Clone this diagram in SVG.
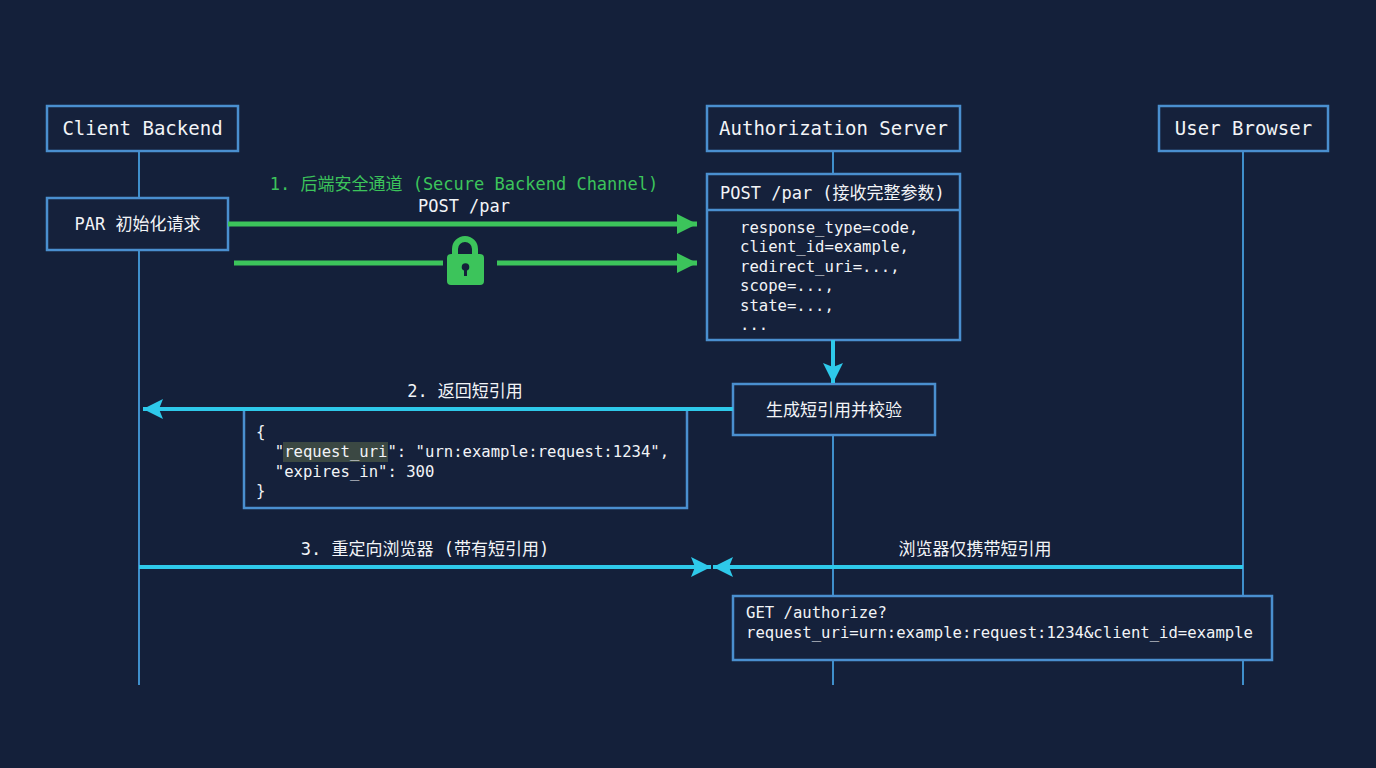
<svg xmlns="http://www.w3.org/2000/svg" width="1376" height="768" viewBox="0 0 1376 768">
<defs>
<style>
.box{fill:#15213b;stroke:#4a8fcf;stroke-width:2.5}
.life{stroke:#3f8fcb;stroke-width:2;fill:none}
.t{font-family:"DejaVu Sans Mono","Noto Sans CJK SC",monospace;fill:#f2f4f7}
.h{font-size:19px}
.m{font-size:17px}
.c{font-size:15.6px}
.g{stroke:#3cc45b;stroke-width:5;fill:none}
.cy{stroke:#2ec9ea;stroke-width:4;fill:none}
</style>
<marker id="ag" viewBox="0 0 10 10" refX="10" refY="5" markerWidth="4" markerHeight="4" markerUnits="strokeWidth" orient="auto"><path d="M0,0L10,5L0,10z" fill="#3cc45b"/></marker>
<marker id="ac" viewBox="0 0 10 10" refX="10" refY="5" markerWidth="5" markerHeight="5" markerUnits="strokeWidth" orient="auto"><path d="M0,0L10,5L0,10L2,5z" fill="#2ec9ea"/></marker>
</defs>
<rect width="1376" height="768" fill="#14203a"/>
<g id="lifelines">
<line class="life" x1="139" y1="151" x2="139" y2="685"/>
<line class="life" x1="833" y1="151" x2="833" y2="685"/>
<line class="life" x1="1243" y1="151" x2="1243" y2="685"/>
</g>
<g id="client-backend"><rect class="box" x="47" y="106" width="191" height="45"/><text class="t h" x="142.5" y="135" text-anchor="middle">Client Backend</text></g>
<g id="auth-server"><rect class="box" x="707" y="106" width="253" height="45"/><text class="t h" x="833.5" y="135" text-anchor="middle">Authorization Server</text></g>
<g id="user-browser"><rect class="box" x="1159" y="106" width="169" height="45"/><text class="t h" x="1243.5" y="135" text-anchor="middle">User Browser</text></g>
<g id="par-init"><rect class="box" x="47" y="198" width="181" height="52"/><text class="t m" x="137.5" y="230" text-anchor="middle" font-size="18">PAR 初始化请求</text></g>
<g id="post-par">
<rect class="box" x="707" y="174" width="253" height="166"/>
<line x1="707" y1="210" x2="960" y2="210" stroke="#4a8fcf" stroke-width="2.5"/>
<text class="t m" x="720" y="199">POST /par (接收完整参数)</text>
<text class="t c" x="740" y="233">response_type=code,</text>
<text class="t c" x="740" y="252">client_id=example,</text>
<text class="t c" x="740" y="272">redirect_uri=...,</text>
<text class="t c" x="740" y="291">scope=...,</text>
<text class="t c" x="740" y="311">state=...,</text>
<text class="t c" x="740" y="330">...</text>
</g>
<g id="generate"><rect class="box" x="733" y="384" width="202" height="51"/><text class="t m" x="834" y="416" text-anchor="middle" font-size="18">生成短引用并校验</text></g>
<g id="json-response">
<rect class="box" x="244" y="409" width="443" height="99"/>
<rect x="283" y="442" width="105" height="20" fill="#3b4843"/>
<text class="t c" x="256" y="437">{</text>
<text class="t c" x="256" y="457" xml:space="preserve">  "request_uri": "urn:example:request:1234",</text>
<text class="t c" x="256" y="477" xml:space="preserve">  "expires_in": 300</text>
<text class="t c" x="256" y="496">}</text>
</g>
<g id="get-authorize">
<rect class="box" x="733" y="596" width="539" height="64"/>
<text class="t c" x="746" y="618">GET /authorize?</text>
<text class="t c" x="746" y="638">request_uri=urn:example:request:1234&amp;client_id=example</text>
</g>
<g id="connectors">
<line class="g" x1="228" y1="224" x2="697" y2="224" marker-end="url(#ag)"/>
<line class="g" x1="234" y1="263" x2="443" y2="263"/>
<line class="g" x1="497" y1="263" x2="697" y2="263" marker-end="url(#ag)"/>
<g id="lock" fill="#3cc45b">
<path d="M452,256 V249 a13,13 0 0 1 26,0 V256 h-6 V249 a7,7 0 0 0 -14,0 V256 z"/>
<rect x="447" y="254" width="37" height="31" rx="4"/>
<circle cx="465.5" cy="267" r="3.8" fill="#14203a"/>
<rect x="464" y="267" width="3" height="9" fill="#14203a"/>
</g>
<line class="cy" x1="833" y1="340" x2="833" y2="383" marker-end="url(#ac)"/>
<line class="cy" x1="733" y1="409" x2="143" y2="409" marker-end="url(#ac)"/>
<line class="cy" x1="139" y1="567" x2="711" y2="567" marker-end="url(#ac)"/>
<line class="cy" x1="1243" y1="567" x2="713" y2="567" marker-end="url(#ac)"/>
</g>
<g id="labels">
<text class="t m" x="464" y="190" text-anchor="middle" style="fill:#3cc45b">1. 后端安全通道 (Secure Backend Channel)</text>
<text class="t m" x="464" y="212" text-anchor="middle">POST /par</text>
<text class="t m" x="465" y="397" text-anchor="middle">2. 返回短引用</text>
<text class="t m" x="425" y="555" text-anchor="middle">3. 重定向浏览器 (带有短引用)</text>
<text class="t m" x="975" y="555" text-anchor="middle">浏览器仅携带短引用</text>
</g>
</svg>
